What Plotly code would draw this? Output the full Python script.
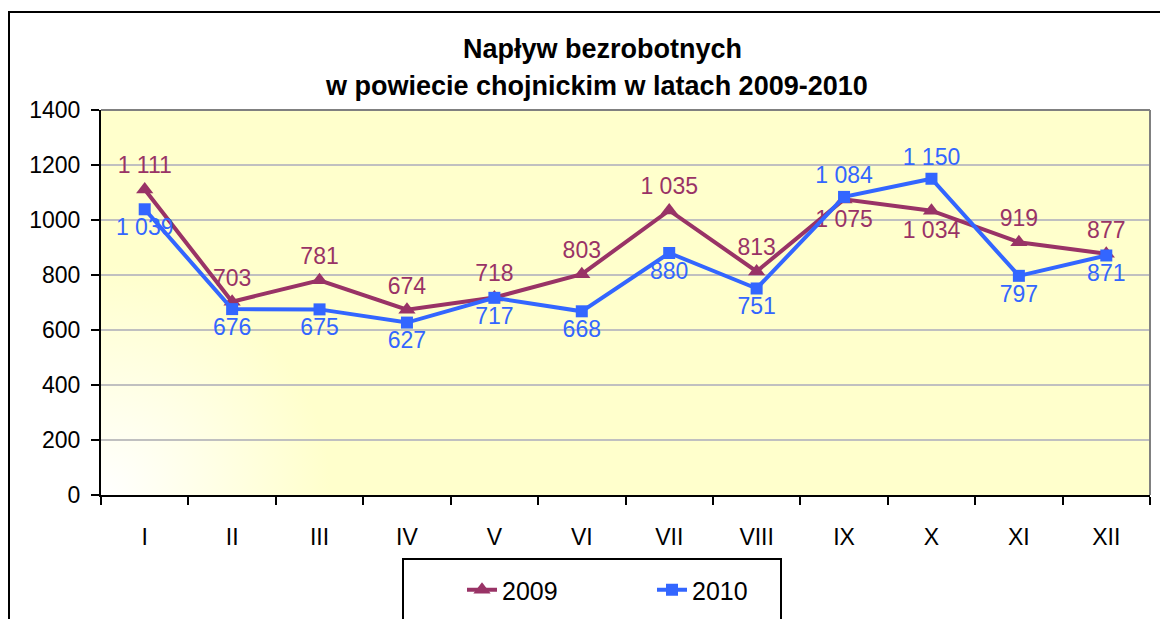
import base64
import plotly.graph_objects as go

months = ["I", "II", "III", "IV", "V", "VI", "VII", "VIII", "IX", "X", "XI", "XII"]
values_2009 = [1111, 703, 781, 674, 718, 803, 1035, 813, 1075, 1034, 919, 877]
values_2010 = [1039, 676, 675, 627, 717, 668, 880, 751, 1084, 1150, 797, 871]
pos_2009 = ["top center"] * 8 + ["bottom center", "bottom center", "top center", "top center"]
pos_2010 = ["bottom center"] * 8 + ["top center", "top center", "bottom center", "bottom center"]

C09 = "#993366"
C10 = "#3366FF"
FONT = "Liberation Sans, Arial, sans-serif"

OFF = 8  # default page body margin
W, H = 1160, 611
L, T = 101 - OFF, 110 - OFF
R = W - (1150 - OFF)
B = H - (495 - OFF)
PW, PH = W - L - R, H - T - B

def px(sx):
    return (sx - OFF - L) / PW

def py(sy):
    return (H - B - (sy - OFF)) / PH

def cx(sx):
    return (sx - OFF) / W

def cy(sy):
    return (H - (sy - OFF)) / H

fig = go.Figure()
fig.add_trace(go.Scatter(
    x=months, y=values_2009, name="2009", mode="lines+markers+text",
    line=dict(color=C09, width=4),
    marker=dict(symbol="triangle-up", size=15, color=C09),
    texttemplate="%{y:,}", textposition=pos_2009,
    textfont=dict(color=C09, size=23, family=FONT),
))
fig.add_trace(go.Scatter(
    x=months, y=values_2010, name="2010", mode="lines+markers+text",
    line=dict(color=C10, width=4),
    marker=dict(symbol="square", size=12, color=C10),
    texttemplate="%{y:,}", textposition=pos_2010,
    textfont=dict(color=C10, size=23, family=FONT),
))

svg = (
    f'<svg xmlns="http://www.w3.org/2000/svg" width="{PW}" height="{PH}" viewBox="0 0 {PW} {PH}" preserveAspectRatio="none">'
    f'<defs><radialGradient id="g" gradientUnits="userSpaceOnUse" cx="0" cy="{PH}" r="230">'
    '<stop offset="0" stop-color="#FFFFFF"/><stop offset="1" stop-color="#FFFFCC"/></radialGradient></defs>'
    f'<rect x="0" y="0" width="{PW}" height="{PH}" fill="url(#g)"/></svg>'
)
src = "data:image/svg+xml;base64," + base64.b64encode(svg.encode()).decode()

fig.update_layout(
    width=W, height=H,
    margin=dict(l=L, r=R, t=T, b=B, autoexpand=False),
    paper_bgcolor="white", plot_bgcolor="#FFFFCC",
    separators=", ",
    font=dict(family=FONT, size=23, color="black"),
    showlegend=True,
    legend=dict(
        orientation="h", xanchor="center", yanchor="middle",
        xref="container", yref="container",
        x=cx(652), y=cy(590),
        font=dict(size=25, color="black", family=FONT),
        bgcolor="rgba(0,0,0,0)", borderwidth=0,
        entrywidth=145, entrywidthmode="pixels",
    ),
    images=[dict(
        source=src, xref="paper", yref="paper", x=0, y=1, sizex=1, sizey=1,
        xanchor="left", yanchor="top", sizing="stretch", layer="below",
    )],
    annotations=[
        dict(text="<b>Napływ bezrobotnych</b>", xref="paper", yref="paper",
             x=px(602), y=py(49), xanchor="center", yanchor="middle", showarrow=False,
             font=dict(size=27, family=FONT, color="black")),
        dict(text="<b>w powiecie chojnickim w latach 2009-2010</b>", xref="paper", yref="paper",
             x=px(596), y=py(86), xanchor="center", yanchor="middle", showarrow=False,
             font=dict(size=27, family=FONT, color="black")),
    ],
    shapes=[
        dict(type="line", xref="paper", yref="paper", x0=0, x1=1, y0=1, y1=1,
             line=dict(color="#808080", width=2)),
        dict(type="line", xref="paper", yref="paper", x0=1, x1=1, y0=0, y1=1,
             line=dict(color="#808080", width=2)),
        dict(type="rect", xref="paper", yref="paper", x0=px(9), x1=px(1250), y0=py(12), y1=py(700),
             line=dict(color="black", width=2), fillcolor="rgba(0,0,0,0)"),
        dict(type="rect", xref="paper", yref="paper", x0=px(403), x1=px(781), y0=py(559), y1=py(700),
             line=dict(color="black", width=2), fillcolor="rgba(0,0,0,0)"),
    ],
)

fig.update_xaxes(
    type="category", range=[-0.5, 11.5], tickson="boundaries", ticks="outside",
    ticklen=8, tickwidth=2, tickcolor="black", showline=True, linecolor="black",
    linewidth=2, showgrid=False, ticklabelstandoff=20,
    tickfont=dict(size=23, family=FONT, color="black"),
)
fig.update_yaxes(
    range=[0, 1400], dtick=200, ticks="outside", ticklen=8, tickwidth=2,
    tickcolor="black", showline=True, linecolor="black", linewidth=2,
    showgrid=True, gridcolor="#C0C0C0", gridwidth=2, zeroline=False,
    ticklabelstandoff=6,
    tickfont=dict(size=23, family=FONT, color="black"),
)

fig.write_html("out.html")
